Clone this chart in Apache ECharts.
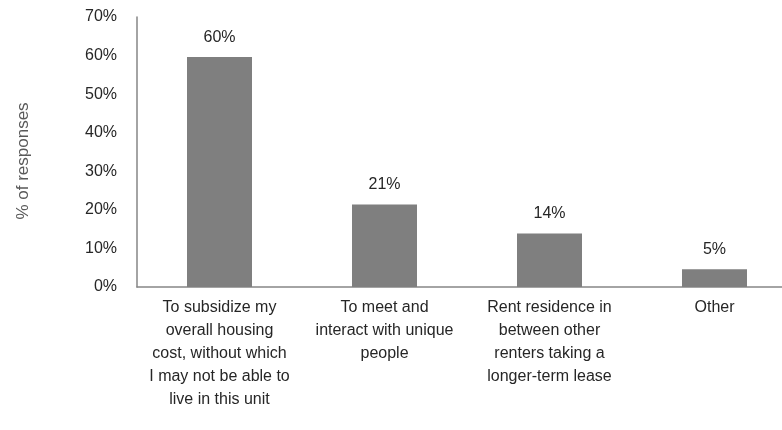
<!DOCTYPE html>
<html><head><meta charset="utf-8">
<script src="https://cdn.jsdelivr.net/npm/echarts@6/dist/echarts.min.js"></script>
<style>html,body{margin:0;padding:0;background:#fff;overflow:hidden}#c{width:800px;height:430px}</style>
</head><body><div id="c"></div>
<script>
const categories = [
  "To subsidize my\noverall housing\ncost, without which\nI may not be able to\nlive in this unit",
  "To meet and\ninteract with unique\npeople",
  "Rent residence in\nbetween other\nrenters taking a\nlonger-term lease",
  "Other"
];
const values = [59.6, 21.4, 13.9, 4.6];
const yTicks = [0, 10, 20, 30, 40, 50, 60, 70];
const yTitle = "% of responses";

const FONT = "'Liberation Sans', Arial, sans-serif";
const chart = echarts.init(document.getElementById('c'), null, {renderer: 'canvas'});
chart.setOption({
  animation: false,
  grid: {left: 137, right: 3, top: 17, bottom: 143, containLabel: false},
  xAxis: {
    type: 'category', data: categories,
    axisLine: {lineStyle: {color: '#868686', width: 1.5}},
    axisTick: {show: false},
    axisLabel: {color: '#262626', fontFamily: FONT, fontSize: 16, lineHeight: 23, margin: 9, interval: 0}
  },
  yAxis: {
    type: 'value', min: yTicks[0], max: yTicks[yTicks.length - 1], interval: 10,
    axisLine: {show: true, lineStyle: {color: '#868686', width: 1.5}},
    axisTick: {show: false},
    splitLine: {show: false},
    axisLabel: {color: '#262626', fontFamily: FONT, fontSize: 16, margin: 20, formatter: v => v + '%'}
  },
  graphic: [{
    type: 'text', x: 15, y: 161, rotation: Math.PI / 2,
    style: {text: yTitle, fill: '#595959', font: "17px 'Liberation Sans', Arial, sans-serif",
      textAlign: 'center', textVerticalAlign: 'top'}
  }],
  series: [{
    type: 'bar', data: values, barWidth: 65,
    itemStyle: {color: '#7f7f7f'},
    label: {show: true, position: 'top', distance: 12, color: '#262626', fontFamily: FONT, fontSize: 16,
      formatter: p => Math.round(p.value) + '%'}
  }]
});
</script></body></html>
